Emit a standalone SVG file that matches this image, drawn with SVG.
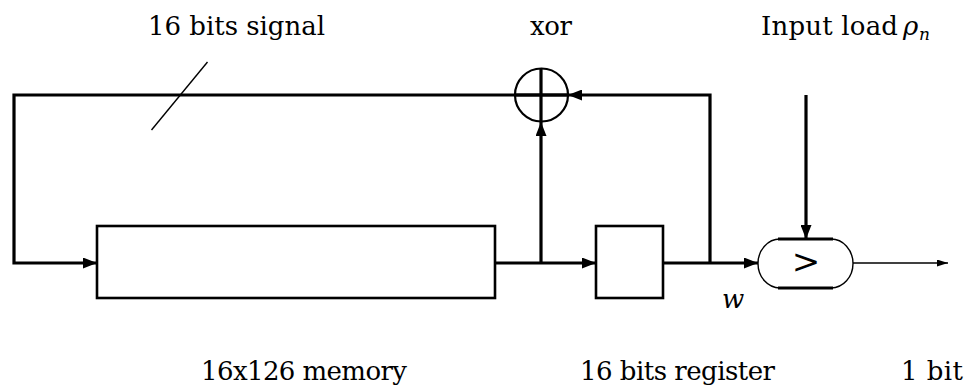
<svg xmlns="http://www.w3.org/2000/svg" width="965" height="390" viewBox="0 0 965 390">
<defs>
<marker id="ah" markerUnits="userSpaceOnUse" markerWidth="14" markerHeight="11" refX="14" refY="5.5" orient="auto">
<path d="M0,0 L14,5.5 L0,11 z" fill="#000"/>
</marker>
<marker id="ahs" markerUnits="userSpaceOnUse" markerWidth="11" markerHeight="7" refX="11" refY="3.5" orient="auto">
<path d="M0,0 L11,3.5 L0,7 z" fill="#000"/>
</marker>
</defs>
<style>
.box{fill:#fff;stroke:#000;stroke-width:2.6}
.w{fill:none;stroke:#000;stroke-width:3.2}
.thin{fill:none;stroke:#000;stroke-width:1.4}
.t{font-family:"DejaVu Serif","Liberation Serif",serif;font-size:26px;fill:#000}
</style>
<rect width="965" height="390" fill="#fff"/>
<g id="connectors">
<path class="w" d="M568,95 H14 V263 H97" marker-end="url(#ah)"/>
<path class="w" d="M541,263 V122" marker-end="url(#ah)"/>
<path class="w" d="M495,263 H596" marker-end="url(#ah)"/>
<path class="w" d="M663,263 H758" marker-end="url(#ah)"/>
<path class="w" d="M710,263 V95 H568" marker-end="url(#ah)"/>
<path class="w" d="M806,95 V239" marker-end="url(#ah)"/>
<path class="thin" d="M853,263 H948" marker-end="url(#ahs)"/>
<line class="thin" x1="151.5" y1="130" x2="207.5" y2="62" stroke-width="1.2"/>
<text class="t" x="148" y="35" textLength="177" lengthAdjust="spacing">16 bits signal</text>
<text class="t" font-style="italic" x="722" y="308">w</text>
</g>
<g id="memory">
<rect class="box" x="97" y="226" width="398" height="72"/>
<text class="t" x="201" y="380" textLength="206" lengthAdjust="spacing">16x126 memory</text>
</g>
<g id="register">
<rect class="box" x="596" y="226" width="67" height="72"/>
<text class="t" x="580" y="380" textLength="195" lengthAdjust="spacing">16 bits register</text>
</g>
<g id="xor">
<circle cx="541.5" cy="95" r="26.5" fill="none" stroke="#000" stroke-width="2.2"/>
<line class="w" x1="541" y1="68" x2="541" y2="122"/>
<line class="w" x1="515" y1="95" x2="568" y2="95"/>
<text class="t" x="530" y="35" textLength="42" lengthAdjust="spacing">xor</text>
</g>
<g id="input">
<text class="t" x="761" y="35" textLength="137" lengthAdjust="spacing">Input load</text>
<text class="t" font-style="italic" x="903" y="35">ρ</text>
<text class="t" font-style="italic" x="919" y="40" style="font-size:17px">n</text>
</g>
<g id="comparator">
<rect x="758" y="239" width="95" height="49" rx="22" ry="24.5" fill="#fff" stroke="#000" stroke-width="1.4"/>
<line class="w" x1="778" y1="239" x2="833" y2="239"/>
<line class="w" x1="778" y1="288" x2="833" y2="288"/>
<text class="t" x="806" y="273" text-anchor="middle" style="font-size:34px">&gt;</text>
<text class="t" x="901" y="380" textLength="62" lengthAdjust="spacing">1 bit</text>
</g>
</svg>
